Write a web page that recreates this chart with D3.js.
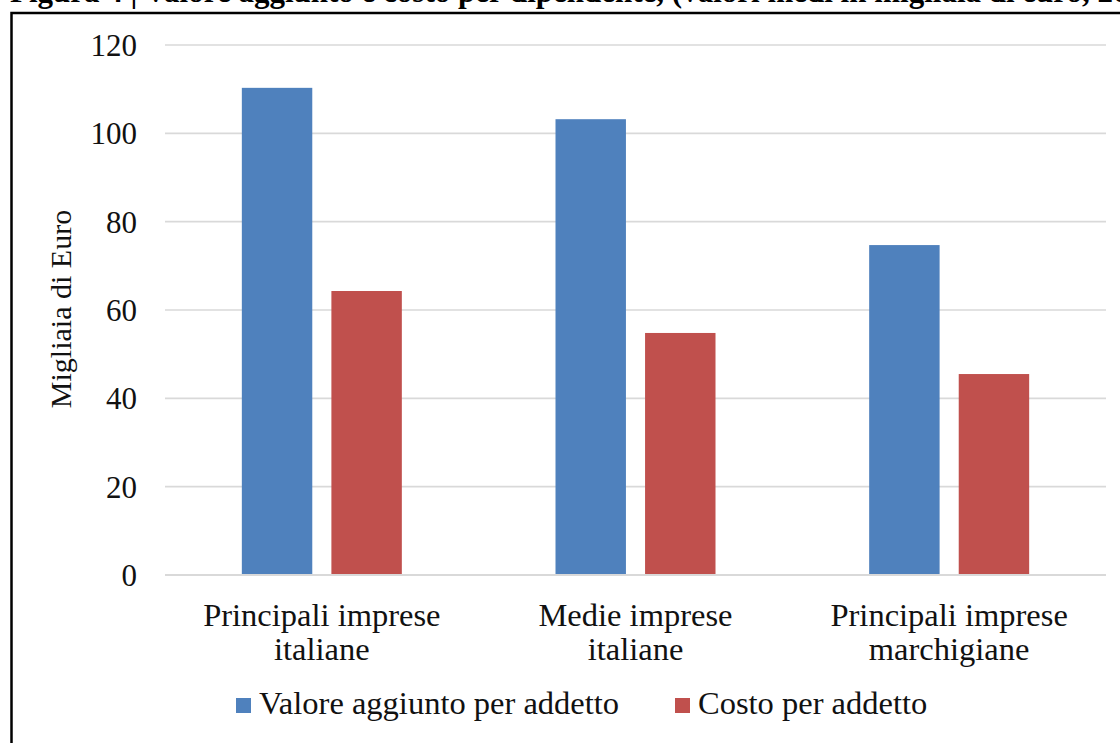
<!DOCTYPE html>
<html>
<head>
<meta charset="utf-8">
<script src="https://cdn.jsdelivr.net/npm/d3@7"></script>
<style>
  html, body { margin: 0; padding: 0; background: #fff; }
  svg { display: block; }
</style>
</head>
<body>
<svg id="chart" width="1120" height="743"></svg>
<script>
// ---- data ----
const categoryLine1 = ["Principali imprese", "Medie imprese", "Principali imprese"];
const categoryLine2 = ["italiane", "italiane", "marchigiane"];
const seriesNames = ["Valore aggiunto per addetto", "Costo per addetto"];
const valoreAggiunto = [110.3, 103.2, 74.7];
const costoAddetto = [64.3, 54.8, 45.5];
const yTickValues = [0, 20, 40, 60, 80, 100, 120];
const titleText = "Figura 4 | Valore aggiunto e costo per dipendente, (valori medi in migliaia di euro, 2017)";
const yAxisTitle = "Migliaia di Euro";

// ---- layout ----
const W = 1120, H = 743;
const FONT = "'Liberation Serif', 'Times New Roman', serif";
const colors = ["#4F81BD", "#C0504D"];
const svg = d3.select("#chart");
svg.append("rect").attr("width", W).attr("height", H).attr("fill", "#fff");

// title (clipped at the top of the picture, as in the source)
svg.append("text")
  .attr("x", 10).attr("y", 2)
  .attr("font-family", FONT).attr("font-weight", "bold").attr("font-size", 31)
  .attr("fill", "#000")
  .text(titleText);

// frame
svg.append("rect")
  .attr("x", 11.5).attr("y", 13).attr("width", W + 20).attr("height", H + 20)
  .attr("fill", "none").attr("stroke", "#000").attr("stroke-width", 2.5);

const plotLeft = 165, plotRight = 1106;
const y = d3.scaleLinear().domain([0, 120]).range([575, 45]);
const x0 = d3.scaleBand().domain(d3.range(categoryLine1.length)).range([plotLeft, plotRight]).padding(0);
const groupWidth = 160;
const x1 = d3.scaleBand().domain(d3.range(seriesNames.length)).range([0, groupWidth]).paddingInner(0.2135).paddingOuter(0);

// gridlines
svg.append("g").selectAll("line").data(yTickValues).join("line")
  .attr("x1", plotLeft).attr("x2", plotRight)
  .attr("y1", d => y(d)).attr("y2", d => y(d))
  .attr("stroke", "#d9d9d9").attr("stroke-width", 1.6);

// y axis labels
const yAxis = d3.axisLeft(y).tickValues(yTickValues).tickSize(0).tickPadding(28);
const gy = svg.append("g").attr("transform", `translate(${plotLeft},0)`).call(yAxis);
gy.select(".domain").remove();
gy.selectAll("text")
  .attr("font-family", FONT).attr("font-size", 31).attr("fill", "#111")
  .attr("dy", "0.34em");

// y axis title
svg.append("text")
  .attr("transform", `translate(71,309) rotate(-90)`)
  .attr("text-anchor", "middle")
  .attr("font-family", FONT).attr("font-size", 30).attr("fill", "#111")
  .text(yAxisTitle);

// bars
const seriesValues = [valoreAggiunto, costoAddetto];
const groups = svg.append("g").selectAll("g").data(d3.range(categoryLine1.length)).join("g")
  .attr("transform", i => `translate(${x0(i) + (x0.bandwidth() - groupWidth) / 2},0)`);
groups.selectAll("rect").data(i => seriesValues.map((vals, s) => ({ s, v: vals[i] }))).join("rect")
  .attr("x", d => x1(d.s))
  .attr("width", x1.bandwidth())
  .attr("y", d => y(d.v))
  .attr("height", d => y(0) - y(d.v))
  .attr("fill", d => colors[d.s]);

// baseline
svg.append("line")
  .attr("x1", plotLeft).attr("x2", plotRight)
  .attr("y1", y(0)).attr("y2", y(0))
  .attr("stroke", "#d9d9d9").attr("stroke-width", 2);

// category labels
const catG = svg.append("g").selectAll("text").data(d3.range(categoryLine1.length)).join("text")
  .attr("text-anchor", "middle")
  .attr("font-family", FONT).attr("font-size", 32.5).attr("fill", "#111");
catG.append("tspan").attr("x", i => x0(i) + x0.bandwidth() / 2).attr("y", 626).text(i => categoryLine1[i]);
catG.append("tspan").attr("x", i => x0(i) + x0.bandwidth() / 2).attr("y", 660).text(i => categoryLine2[i]);

// legend
const legendX = [236, 675];
const lg = svg.append("g").selectAll("g").data(seriesNames).join("g")
  .attr("transform", (d, i) => `translate(${legendX[i]},0)`);
lg.append("rect").attr("x", 0).attr("y", 698).attr("width", 15).attr("height", 15)
  .attr("fill", (d, i) => colors[i]);
lg.append("text").attr("x", 23).attr("y", 714)
  .attr("font-family", FONT).attr("font-size", 32.5).attr("fill", "#111")
  .text(d => d);
</script>
</body>
</html>
